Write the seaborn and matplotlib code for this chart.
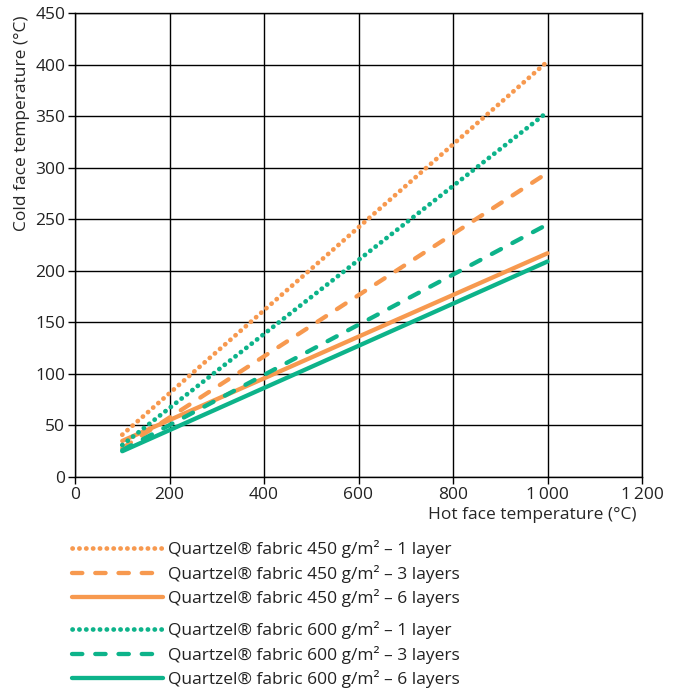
import pandas as pd
import matplotlib.pyplot as plt
import seaborn as sns
from matplotlib.lines import Line2D

# --- data ---
hot_face = [100, 1000]
q450_1 = [41, 403]
q450_3 = [28, 295]
q450_6 = [35, 217]
q600_1 = [31, 354]
q600_3 = [26, 245]
q600_6 = [25, 209]

labels = [
    "Quartzel® fabric 450 g/m² – 1 layer",
    "Quartzel® fabric 450 g/m² – 3 layers",
    "Quartzel® fabric 450 g/m² – 6 layers",
    "Quartzel® fabric 600 g/m² – 1 layer",
    "Quartzel® fabric 600 g/m² – 3 layers",
    "Quartzel® fabric 600 g/m² – 6 layers",
]
series = [q450_1, q450_3, q450_6, q600_1, q600_3, q600_6]

x_ticks = [0, 200, 400, 600, 800, 1000, 1200]
x_ticklabels = ["0", "200", "400", "600", "800", "1\u2009000", "1\u2009200"]
y_ticks = [0, 50, 100, 150, 200, 250, 300, 350, 400, 450]

ORANGE = "#F7994F"
GREEN = "#0DB38A"
dotted = (0, (0.05, 1.4))
dashed = (0, (2.4, 3.0))
styles = [
    (ORANGE, dotted), (ORANGE, dashed), (ORANGE, "-"),
    (GREEN, dotted), (GREEN, dashed), (GREEN, "-"),
]
widths = [3.4, 3.1, 3.1, 3.4, 3.1, 3.1]

FS = 12.5

sns.set_theme(style="white")
plt.rcParams["font.family"] = ["Open Sans", "DejaVu Sans"]
plt.rcParams["text.color"] = "#222222"

fig = plt.figure(figsize=(6.82, 6.9), dpi=100)
ax = fig.add_axes([75 / 682, 1 - 477 / 690, 567 / 682, 464 / 690])

for lab, vals, (col, ls), lw in zip(labels, series, styles, widths):
    df = pd.DataFrame({"hot": hot_face, "cold": vals})
    sns.lineplot(data=df, x="hot", y="cold", ax=ax, color=col, linewidth=lw,
                 linestyle=ls, solid_capstyle="round", dash_capstyle="round",
                 legend=False)

ax.set_xlim(0, 1200)
ax.set_ylim(0, 450)
ax.set_xticks(x_ticks)
ax.set_xticklabels(x_ticklabels)
ax.set_yticks(y_ticks)
ax.grid(True, color="black", linewidth=1.0)
for s in ax.spines.values():
    s.set_color("black")
    s.set_linewidth(1.0)
ax.tick_params(axis="both", which="both", direction="out", length=5, width=1,
               color="black", labelsize=FS, labelcolor="#222222", pad=2,
               bottom=True, left=True)

ax.set_xlabel("Hot face temperature (°C)", fontsize=FS, ha="right", x=0.99,
              labelpad=3)
ax.set_ylabel("Cold face temperature (°C)", fontsize=FS, ha="right", y=0.995,
              labelpad=4)

# legend split into two groups
def make_handles(idx):
    return [Line2D([0], [0], color=styles[i][0], linestyle=styles[i][1],
                   linewidth=widths[i], solid_capstyle="round",
                   dash_capstyle="round") for i in idx]

leg_kw = dict(frameon=False, fontsize=FS, handlelength=5.25, handletextpad=0.3,
              labelspacing=0.385, borderaxespad=0, borderpad=0)
leg1 = fig.legend(make_handles([0, 1, 2]), labels[0:3], loc="upper left",
                  bbox_to_anchor=(72 / 682, 1 - 540 / 690), **leg_kw)
leg2 = fig.legend(make_handles([3, 4, 5]), labels[3:6], loc="upper left",
                  bbox_to_anchor=(72 / 682, 1 - 621 / 690), **leg_kw)

fig.savefig("out.png", dpi=100)
